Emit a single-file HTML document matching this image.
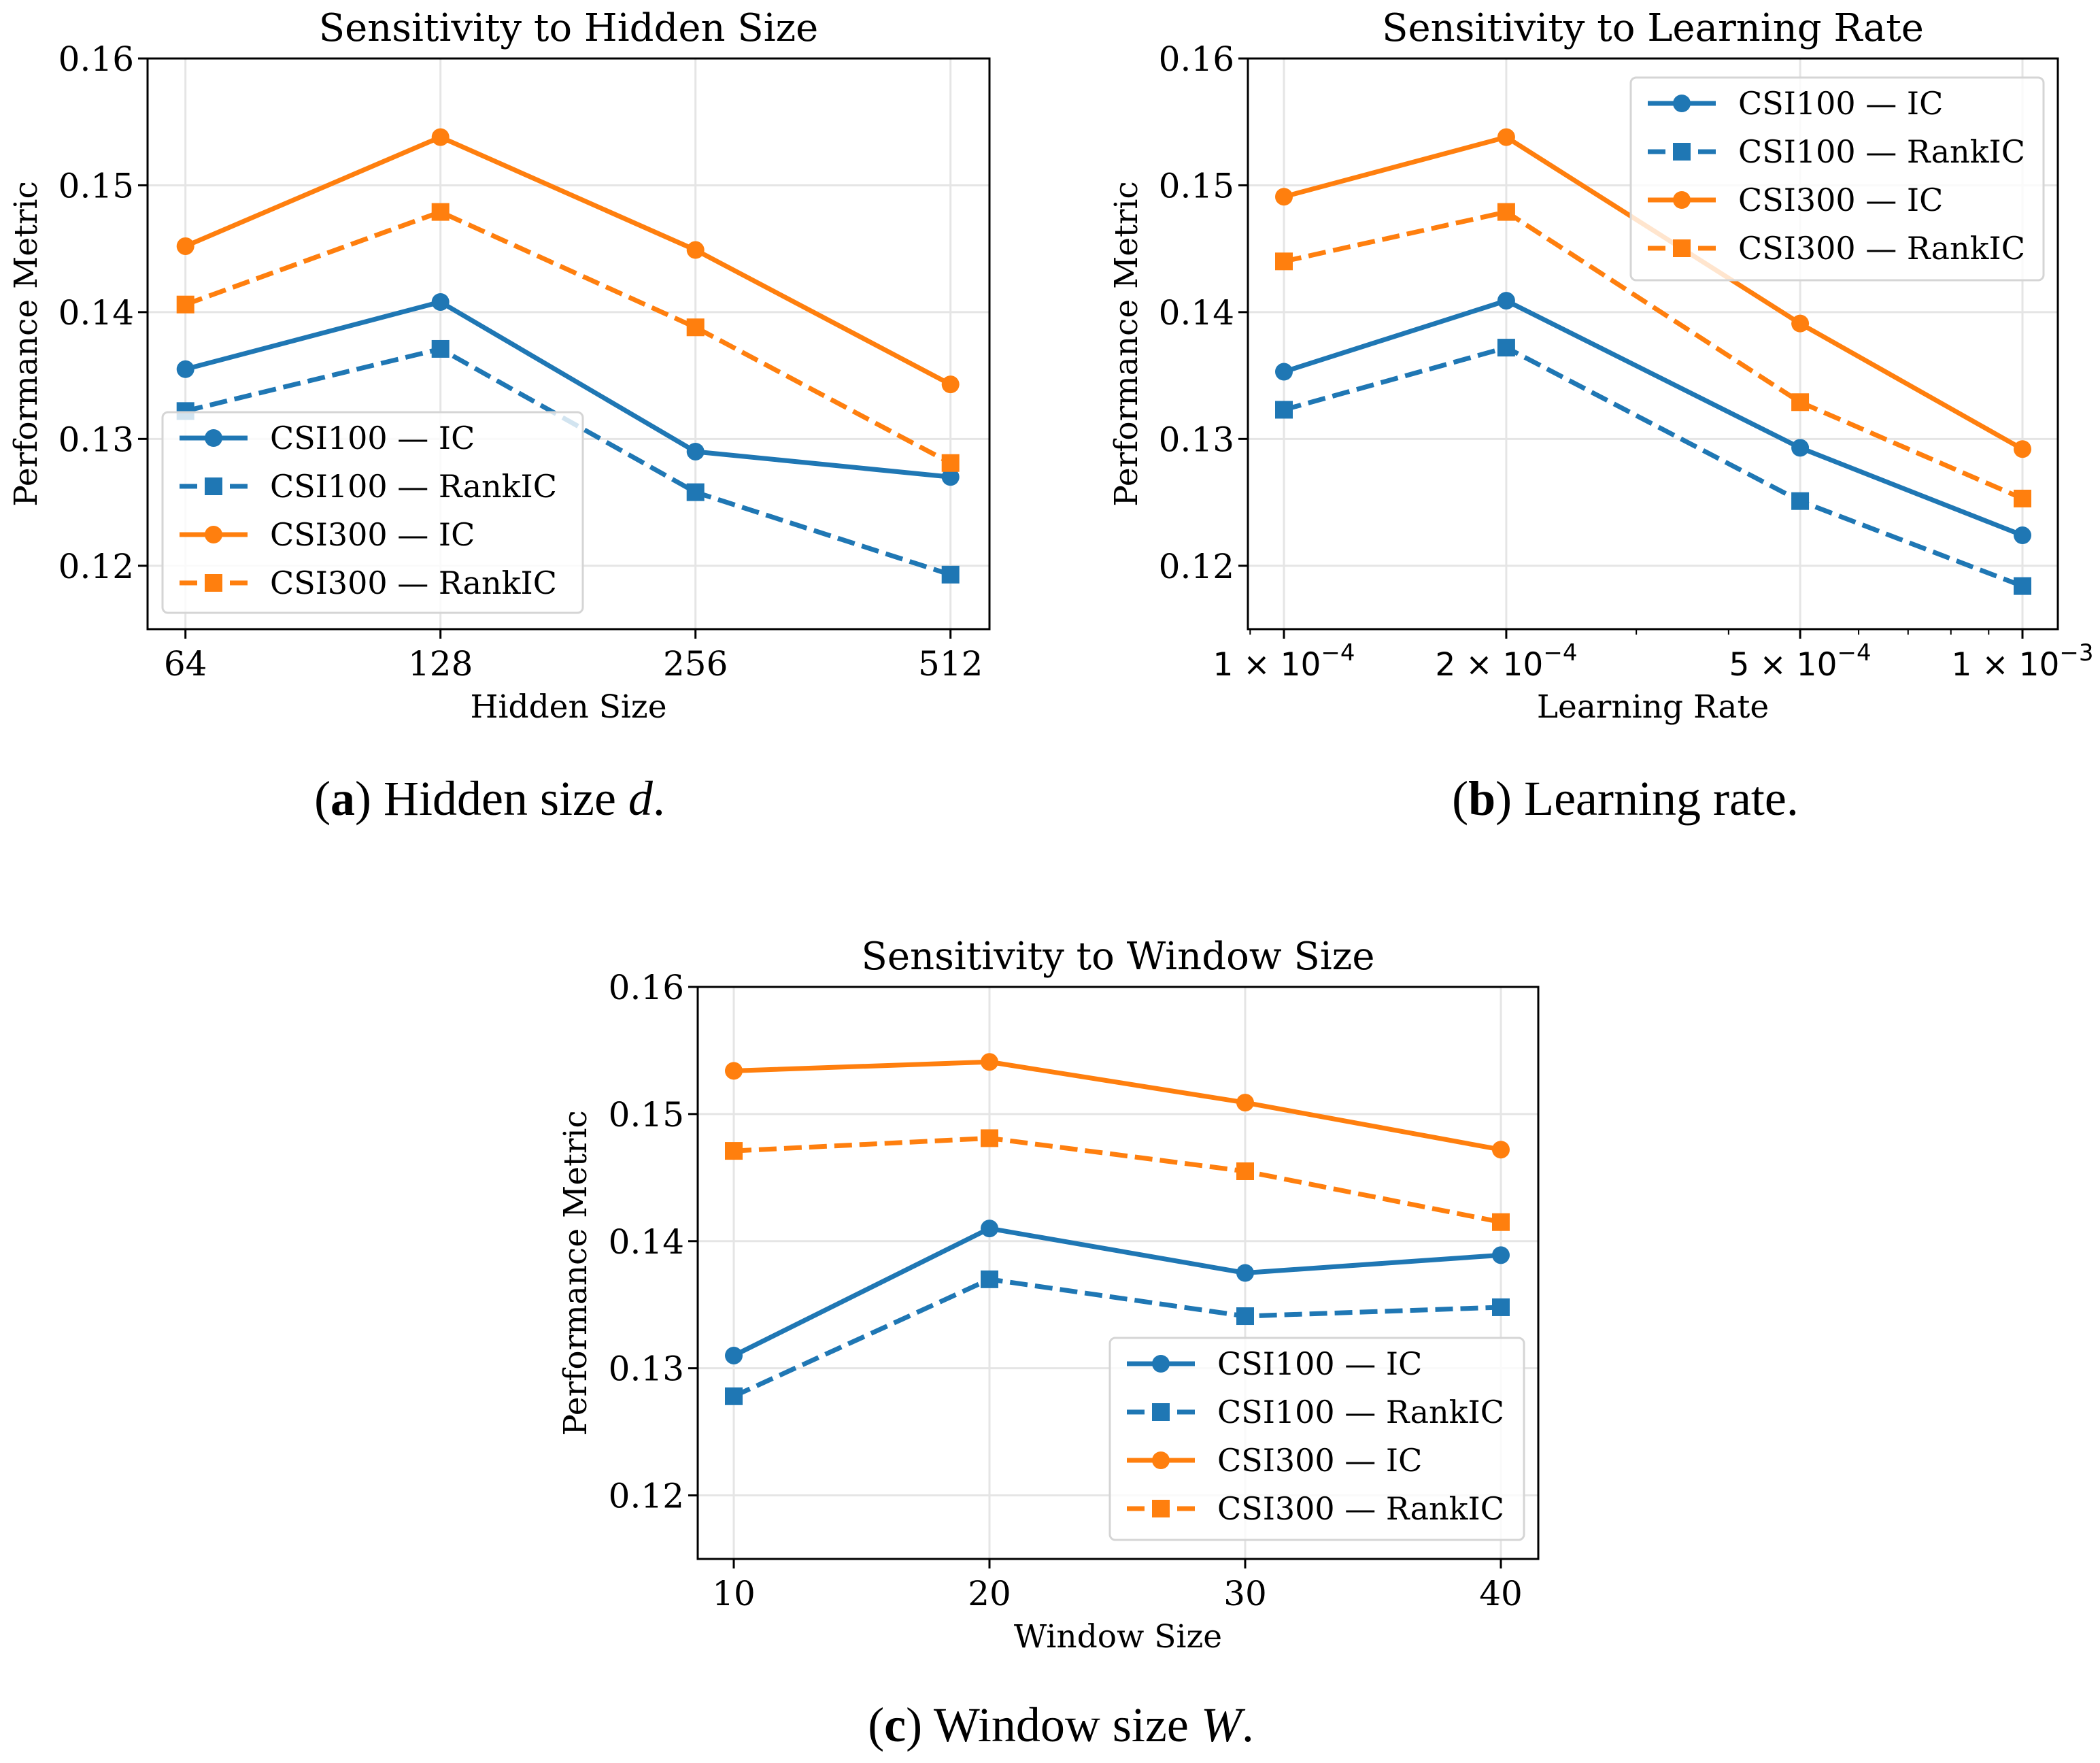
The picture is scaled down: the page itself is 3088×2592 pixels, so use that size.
<!DOCTYPE html>
<html><head><meta charset="utf-8"><style>
html,body{margin:0;padding:0;background:#fff}
svg text{font-family:"DejaVu Serif",serif}
</style></head><body>
<svg id="root" width="3088" height="2587" viewBox="0 0 3088 2587" xmlns="http://www.w3.org/2000/svg">
<rect width="3088" height="2587" fill="#fff"/>
</svg>
<script>
const seriesNames = ["CSI100 — IC","CSI100 — RankIC","CSI300 — IC","CSI300 — RankIC"];
const yTicks = [0.12,0.13,0.14,0.15,0.16];
const yTickLabels = ["0.12","0.13","0.14","0.15","0.16"];
// chart a
const hiddenCats = [64,128,256,512];
const hiddenLabels = ["64","128","256","512"];
const hidden_csi100_ic = [0.1355,0.1408,0.1290,0.1270];
const hidden_csi100_rank = [0.1322,0.1371,0.1258,0.1193];
const hidden_csi300_ic = [0.1452,0.1538,0.1449,0.1343];
const hidden_csi300_rank = [0.1406,0.1479,0.1388,0.1281];
// chart b
const lrCats = [1e-4,2e-4,5e-4,1e-3];
const lrMant = ["1","2","5","1"];
const lrExp = ["−4","−4","−4","−3"];
const lrMinor = [9e-5,3e-4,4e-4,6e-4,7e-4,8e-4,9e-4];
const lr_csi100_ic = [0.1353,0.1409,0.1293,0.1224];
const lr_csi100_rank = [0.1323,0.1372,0.1251,0.1184];
const lr_csi300_ic = [0.1491,0.1538,0.1391,0.1292];
const lr_csi300_rank = [0.1440,0.1479,0.1329,0.1253];
// chart c
const winCats = [10,20,30,40];
const winLabels = ["10","20","30","40"];
const win_csi100_ic = [0.1310,0.1410,0.1375,0.1389];
const win_csi100_rank = [0.1278,0.1370,0.1341,0.1348];
const win_csi300_ic = [0.1534,0.1541,0.1509,0.1472];
const win_csi300_rank = [0.1471,0.1481,0.1455,0.1415];

const NS="http://www.w3.org/2000/svg";
const root=document.getElementById('root');
function mk(tag,attrs,parent){const e=document.createElementNS(NS,tag);for(const k in attrs)e.setAttribute(k,attrs[k]);(parent||root).appendChild(e);return e;}
const BLUE="#1f77b4",ORANGE="#ff7f0e";
const styles=[{c:BLUE,d:false},{c:BLUE,d:true},{c:ORANGE,d:false},{c:ORANGE,d:true}];

function chart(cfg){
  const g=mk('g',{});
  
  
  const {L,R,T,B}=cfg;
  const ymin=0.115,ymax=0.16;
  const Y=v=>B-(v-ymin)/(ymax-ymin)*(B-T);
  const X=cfg.X;
  yTicks.forEach((t,i)=>{
    const gl=mk('line',{x1:L,x2:R,y1:Y(t),y2:Y(t),stroke:'#e5e5e5','stroke-width':3},g);
    
    
  });
  cfg.cats.forEach(c=>{
    const gl=mk('line',{x1:X(c),x2:X(c),y1:T,y2:B,stroke:'#e5e5e5','stroke-width':3},g);
    
    
  });
  cfg.series.forEach((vals,si)=>{
    const s=styles[si];
    const sg=mk('g',{},g);
    
    
    const pts=vals.map((v,i)=>X(cfg.cats[i])+','+Y(v)).join(' ');
    const pl=mk('polyline',{points:pts,fill:'none',stroke:s.c,'stroke-width':7,'stroke-linejoin':'round'},sg);
    if(s.d)pl.setAttribute('stroke-dasharray','26 11');
    
    
    vals.forEach((v,i)=>{
      let m;
      if(s.d)m=mk('rect',{x:X(cfg.cats[i])-13,y:Y(v)-13,width:26,height:26,fill:s.c},sg);
      else m=mk('circle',{cx:X(cfg.cats[i]),cy:Y(v),r:13,fill:s.c},sg);
      
      
    });
  });
  const sp=mk('rect',{x:L,y:T,width:R-L,height:B-T,fill:'none',stroke:'#000','stroke-width':3},g);
  
  
  yTicks.forEach((t,i)=>{
    mk('line',{x1:L-14,x2:L,y1:Y(t),y2:Y(t),stroke:'#000','stroke-width':3},g);
    const tx=mk('text',{x:L-20,y:Y(t)+18,'text-anchor':'end','font-size':50,fill:'#000'},g);
    tx.textContent=yTickLabels[i];
    
    
  });
  cfg.cats.forEach((c,i)=>{
    mk('line',{x1:X(c),x2:X(c),y1:B,y2:B+14,stroke:'#000','stroke-width':3},g);
    const tx=mk('text',{x:X(c),y:B+68,'text-anchor':'middle','font-size':50,fill:'#000'},g);
    if(cfg.lr){
      tx.setAttribute('style','font-family:"DejaVu Sans",sans-serif');
      tx.setAttribute('font-size',47);
      tx.textContent=lrMant[i]+' × 10';
      const sup=mk('tspan',{dy:-22,'font-size':34},tx);
      sup.textContent=lrExp[i];
    } else tx.textContent=cfg.labels[i];
    
    
  });
  if(cfg.minor)cfg.minor.forEach(c=>{mk('line',{x1:X(c),x2:X(c),y1:B,y2:B+8,stroke:'#000','stroke-width':2},g);});
  const ti=mk('text',{x:(L+R)/2,y:T-26,'text-anchor':'middle','font-size':56},g);
  ti.textContent=cfg.title;
  
  
  const xl=mk('text',{x:(L+R)/2,y:B+130,'text-anchor':'middle','font-size':47},g);
  xl.textContent=cfg.xlabel;
  
  
  const yx=cfg.ylx, yc=(T+B)/2;
  const yl=mk('text',{x:yx,y:yc,'text-anchor':'middle','font-size':47,transform:`rotate(-90 ${yx} ${yc})`},g);
  yl.textContent='Performance Metric';
  
  
  const lg=mk('g',{},g);
  
  
  const [lx,ly,lw,lh]=cfg.leg;
  mk('rect',{x:lx,y:ly,width:lw,height:lh,rx:8,fill:'#fff','fill-opacity':0.8,stroke:'#d5d5d5','stroke-width':3},lg);
  seriesNames.forEach((n,i)=>{
    const s=styles[i];const ey=ly+38+i*71;
    const e=mk('g',{},lg);
    
    
    const ln=mk('line',{x1:lx+25,x2:lx+125,y1:ey,y2:ey,stroke:s.c,'stroke-width':7},e);
    if(s.d)ln.setAttribute('stroke-dasharray','26 11');
    if(s.d)mk('rect',{x:lx+62,y:ey-13,width:26,height:26,fill:s.c},e);
    else mk('circle',{cx:lx+75,cy:ey,r:13,fill:s.c},e);
    const t=mk('text',{x:lx+158,y:ey+16,'font-size':46},e);t.textContent=n;
  });
}
const lg2=Math.log2;
chart({name:'chart-hidden-size',L:217,R:1455,T:86,B:925,cats:hiddenCats,labels:hiddenLabels,
  X:c=>272.7+(lg2(c)-6)*375,series:[hidden_csi100_ic,hidden_csi100_rank,hidden_csi300_ic,hidden_csi300_rank],
  title:'Sensitivity to Hidden Size',xlabel:'Hidden Size',ylx:54,leg:[239,606,618,295]});
chart({name:'chart-learning-rate',L:1835,R:3026,T:86,B:925,cats:lrCats,lr:true,minor:lrMinor,
  X:c=>1888+(Math.log10(c)+4)*1086,series:[lr_csi100_ic,lr_csi100_rank,lr_csi300_ic,lr_csi300_rank],
  title:'Sensitivity to Learning Rate',xlabel:'Learning Rate',ylx:1672,leg:[2398,114,607,298]});
chart({name:'chart-window-size',L:1026,R:2262,T:1451,B:2292,cats:winCats,labels:winLabels,
  X:c=>1079+(c-10)/30*(2207-1079),series:[win_csi100_ic,win_csi100_rank,win_csi300_ic,win_csi300_rank],
  title:'Sensitivity to Window Size',xlabel:'Window Size',ylx:862,leg:[1632,1967,609,297]});
function cap(x,y,lbl,txt,it,name){
  const t=mk('text',{x:x,y:y,'text-anchor':'middle','font-size':72,style:'font-family:"Liberation Serif",serif'});
  
  
  const a=mk('tspan',{},t);a.textContent='(';
  const b=mk('tspan',{'font-weight':'bold'},t);b.textContent=lbl;
  const c=mk('tspan',{},t);c.textContent=') '+txt;
  if(it){const d=mk('tspan',{'font-style':'italic'},t);d.textContent=it;}
  const e=mk('tspan',{},t);e.textContent='.';
}
cap(720,1198,'a','Hidden size ','d','caption-a');
cap(2390,1198,'b','Learning rate','', 'caption-b');
cap(1560,2560,'c','Window size ','W','caption-c');
</script>
</body></html>
